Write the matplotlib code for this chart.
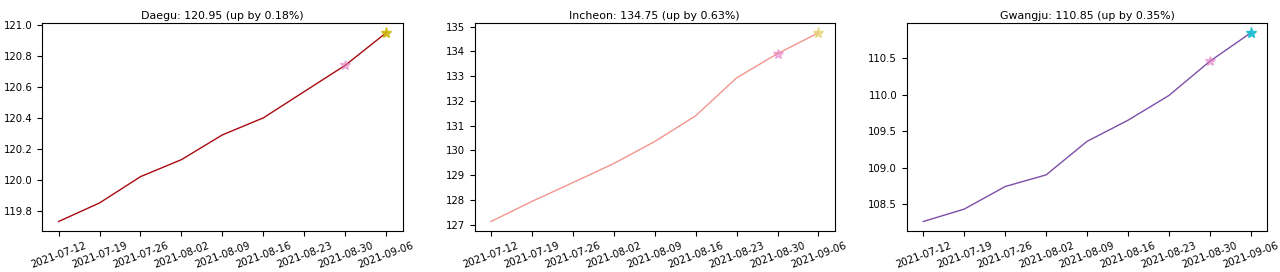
import pandas as pd
import matplotlib
matplotlib.use("Agg")
import matplotlib.pyplot as plt

# weekly index values
dates = pd.to_datetime(["2021-07-12", "2021-07-19", "2021-07-26", "2021-08-02", "2021-08-09",
                        "2021-08-16", "2021-08-23", "2021-08-30", "2021-09-06"])
date_labels = [d.strftime("%Y-%m-%d") for d in dates]

cities = ["Daegu", "Incheon", "Gwangju"]
daegu = [119.73, 119.85, 120.02, 120.13, 120.29, 120.40, 120.57, 120.74, 120.95]
incheon = [127.13, 127.94, 128.70, 129.47, 130.36, 131.40, 132.93, 133.91, 134.75]
gwangju = [108.26, 108.43, 108.74, 108.90, 109.36, 109.65, 109.99, 110.46, 110.85]
pct_change = [0.18, 0.63, 0.35]

series = [daegu, incheon, gwangju]
line_colors = ["#a80a10", "#f2958c", "#7d4fa8"]
last_colors = ["#c9b400", "#e6cf6e", "#17becf"]
last_alpha = [0.8, 0.7, 0.9]

fig, axes = plt.subplots(1, 3, figsize=(12.8, 2.72), dpi=100)
fig.subplots_adjust(left=0.033, right=0.99, bottom=0.151, top=0.914, wspace=0.2)

for ax, city, vals, lc, sc, sa, pct in zip(axes, cities, series, line_colors, last_colors, last_alpha, pct_change):
    ax.plot(range(len(dates)), vals, color=lc, linewidth=1)
    # previous week and latest week markers
    ax.plot(len(dates) - 2, vals[-2], marker="*", color="tab:pink", alpha=0.5, markersize=7)
    ax.plot(len(dates) - 1, vals[-1], marker="*", color=sc, alpha=sa, markersize=8)
    ax.set_title(f"{city}: {vals[-1]:.2f} (up by {pct:.2f}%)", fontsize=7.9, pad=3)
    ax.set_xticks(range(len(dates)))
    ax.set_xticklabels(date_labels, rotation=20, fontsize=7.3)
    ax.tick_params(axis="y", labelsize=7.3)

axes[1].set_yticks(range(127, 136))
axes[2].set_yticks([108.5, 109.0, 109.5, 110.0, 110.5])

plt.savefig("out.png")
plt.close()
